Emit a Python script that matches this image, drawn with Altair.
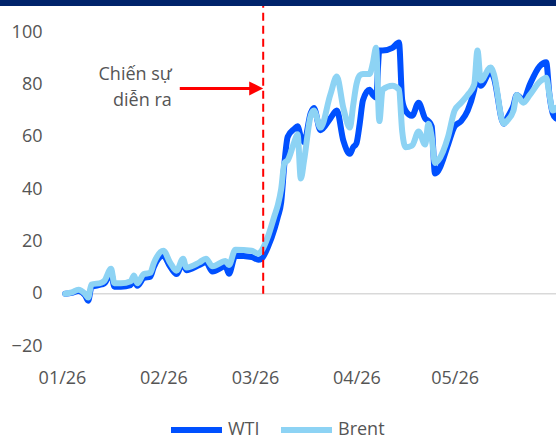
import altair as alt
import pandas as pd

# Cumulative change in crude prices since the start of 2026 (%)
dates = [
    "2026-01-02", "2026-01-04", "2026-01-06", "2026-01-08", "2026-01-09",
    "2026-01-10", "2026-01-13", "2026-01-14", "2026-01-16", "2026-01-17",
    "2026-01-19", "2026-01-22", "2026-01-23", "2026-01-24", "2026-01-26",
    "2026-01-28", "2026-01-29", "2026-02-01", "2026-02-03", "2026-02-05",
    "2026-02-07", "2026-02-08", "2026-02-12", "2026-02-14", "2026-02-16",
    "2026-02-20", "2026-02-21", "2026-02-23", "2026-02-28", "2026-03-02",
    "2026-03-03", "2026-03-05", "2026-03-07", "2026-03-08", "2026-03-09",
    "2026-03-10", "2026-03-11", "2026-03-13", "2026-03-14", "2026-03-15",
    "2026-03-16", "2026-03-18", "2026-03-19", "2026-03-21", "2026-03-24",
    "2026-03-26", "2026-03-28", "2026-03-30", "2026-03-31", "2026-04-01",
    "2026-04-02", "2026-04-03", "2026-04-05", "2026-04-06", "2026-04-07",
    "2026-04-08", "2026-04-09", "2026-04-12", "2026-04-14", "2026-04-15",
    "2026-04-16", "2026-04-18", "2026-04-20", "2026-04-22", "2026-04-23",
    "2026-04-24", "2026-04-25", "2026-04-26", "2026-04-29", "2026-05-01",
    "2026-05-03", "2026-05-05", "2026-05-07", "2026-05-08", "2026-05-09",
    "2026-05-12", "2026-05-13", "2026-05-16", "2026-05-17", "2026-05-19",
    "2026-05-20", "2026-05-22", "2026-05-24", "2026-05-27", "2026-05-29",
    "2026-05-30", "2026-05-31", "2026-06-01",
]
wti = [
    0.0, 0.3, 1.0, -0.5, -2.7,
    2.5, 3.5, 4.0, 8.0, 2.7,
    2.7, 3.3, 5.5, 3.0, 6.0,
    6.5, 10.0, 14.5, 10.5, 7.5,
    12.0, 9.0, 11.0, 12.0, 8.5,
    10.5, 7.6, 14.5, 14.0, 13.0,
    13.4, 18.0, 25.0, 29.5, 35.0,
    50.0, 60.0, 63.0, 64.0, 60.0,
    58.0, 69.0, 71.0, 62.5, 67.0,
    70.0, 58.5, 53.5, 56.0, 57.5,
    65.0, 74.0, 78.0, 76.0, 75.0,
    93.0, 93.0, 94.0, 96.0, 74.0,
    70.0, 68.0, 73.0, 67.0, 66.0,
    64.0, 46.0, 47.0, 57.0, 64.0,
    66.0, 70.0, 78.0, 84.0, 79.5,
    85.0, 82.6, 65.0, 67.0, 72.0,
    76.0, 74.0, 80.0, 87.0, 88.5,
    76.0, 69.0, 67.0,
]
brent = [
    0.0, 0.5, 1.5, 0.0, -1.5,
    3.5, 4.2, 5.0, 9.5, 4.0,
    4.0, 4.8, 7.0, 4.0, 7.5,
    8.0, 11.5, 16.4, 12.0, 8.8,
    13.4, 10.0, 12.0, 13.4, 10.5,
    12.5, 11.0, 16.8, 16.4, 15.3,
    16.4, 22.0, 30.0, 34.0, 40.0,
    50.0, 51.0, 58.0, 61.0, 44.0,
    51.0, 68.0, 70.0, 63.5, 76.0,
    83.0, 71.0, 63.5, 72.0, 80.0,
    83.5, 84.0, 84.0, 88.0, 94.0,
    66.0, 78.0, 79.5, 78.0, 62.0,
    56.0, 56.6, 62.0, 57.0, 65.0,
    60.0, 50.0, 51.0, 60.0, 70.0,
    73.0, 76.0, 80.0, 93.0, 81.5,
    86.5, 84.0, 65.0, 66.0, 70.0,
    76.0, 73.0, 76.0, 81.0, 82.6,
    76.0, 70.0, 71.0,
]

series_names = ["WTI", "Brent"]
series_colors = ["#0050FF", "#8DD3F4"]

y_ticks = [-20, 0, 20, 40, 60, 80, 100]
y_top = 110
event_text = "Chiến sự\ndiễn ra"
arrow_level = 78.5

FONT = "Open Sans"
FONT_SIZE = 18
TEXT_COLOR = "#555555"
RED = "#FF0000"


def utc(y, m, d, h=0):
    return alt.DateTime(year=y, month=m, date=d, hours=h, utc=True)


month_ticks = [utc(2026, m, 1) for m in range(1, 6)]
event_day = utc(2026, 3, 3, 12)
arrow_start = utc(2026, 2, 6)

wti_df = pd.DataFrame({"date": dates, "value": wti, "series": "WTI"})
brent_df = pd.DataFrame({"date": dates, "value": brent, "series": "Brent"})

x_scale = alt.Scale(type="utc", domain=[utc(2026, 1, 1), utc(2026, 6, 1)])
y_scale = alt.Scale(domain=[-20, y_top], nice=False, zero=False)

x_enc = alt.X(
    "date:T",
    scale=x_scale,
    title=None,
    axis=alt.Axis(values=month_ticks, format="%m/%y", labelFlush=False,
                  labelOverlap=False, labelPadding=23),
)
y_enc = alt.Y(
    "value:Q",
    scale=y_scale,
    title=None,
    axis=alt.Axis(values=y_ticks, labelPadding=20),
)
color_enc = alt.Color(
    "series:N",
    scale=alt.Scale(domain=series_names, range=series_colors),
    title=None,
    legend=alt.Legend(
        orient="none", direction="horizontal", legendX=106, legendY=414,
        symbolType="stroke", symbolSize=2600, symbolStrokeWidth=6,
        clipHeight=20,
        labelFont=FONT, labelFontSize=FONT_SIZE, labelColor=TEXT_COLOR,
        labelOffset=3, columnPadding=18,
    ),
)

band = alt.Chart().mark_rect(color="#00236B").encode(
    x=alt.value(-62), x2=alt.value(494), y=alt.value(-6), y2=alt.value(0)
)

zero_line = alt.Chart().mark_rule(color="#d9d9d9", strokeWidth=1.5).encode(
    y=alt.Y(datum=0, scale=y_scale)
)

line_style = dict(strokeWidth=6, strokeCap="round", strokeJoin="round",
                  interpolate="monotone")
wti_line = alt.Chart(wti_df).mark_line(**line_style).encode(
    x=x_enc, y=y_enc, color=color_enc
)
brent_line = alt.Chart(brent_df).mark_line(**line_style).encode(
    x=x_enc, y=y_enc, color=color_enc
)

event_rule = alt.Chart().mark_rule(color=RED, strokeWidth=2, strokeDash=[8, 5]).encode(
    x=alt.X(datum=event_day),
    y=alt.Y(datum=0),
    y2=alt.Y2(datum=y_top),
)

arrow_shaft = alt.Chart().mark_rule(color=RED, strokeWidth=3, x2Offset=-12).encode(
    x=alt.X(datum=arrow_start),
    x2=alt.X2(datum=event_day),
    y=alt.Y(datum=arrow_level),
)

arrow_head = alt.Chart().mark_point(
    shape="M-1,-1L1,0L-1,1Z", filled=True, color=RED, opacity=1,
    size=196, strokeWidth=0, xOffset=-7,
).encode(x=alt.X(datum=event_day), y=alt.Y(datum=arrow_level))

event_label = alt.Chart().mark_text(
    text=event_text, lineBreak="\n", align="right", baseline="middle",
    font=FONT, fontSize=FONT_SIZE, color=TEXT_COLOR, lineHeight=26,
    xOffset=-8, dy=-13,
).encode(x=alt.X(datum=arrow_start), y=alt.Y(datum=arrow_level))

chart = alt.layer(
    band, zero_line, wti_line, brent_line, event_rule,
    arrow_shaft, arrow_head, event_label,
).properties(
    width=494,
    height=340,
    autosize=alt.AutoSizeParams(type="none"),
    padding={"left": 62, "top": 6, "right": 0, "bottom": 93},
    background="white",
).configure_view(
    stroke=None
).configure_axis(
    labelFont=FONT, labelFontSize=FONT_SIZE, labelColor=TEXT_COLOR,
    domain=False, ticks=False, grid=False,
)

chart.save("out.html", embed_options={"renderer": "svg", "actions": False})
